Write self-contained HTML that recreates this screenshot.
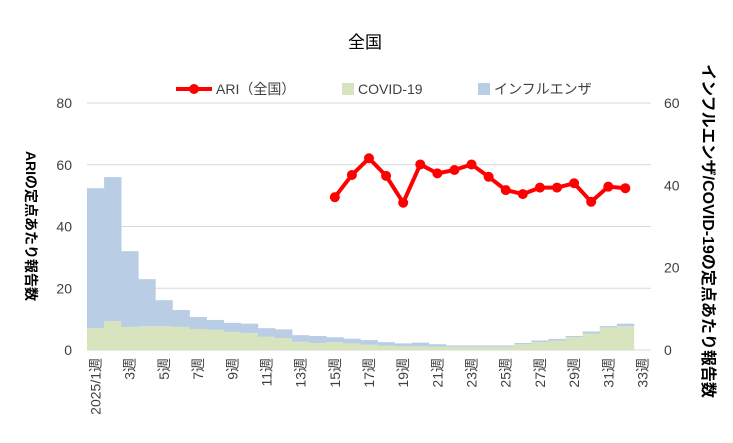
<!DOCTYPE html>
<html><head><meta charset="utf-8"><style>
body{margin:0;background:#fff;}
svg text{font-family:"Liberation Sans","Noto Sans CJK JP",sans-serif;fill:#404040;}
</style></head><body>
<svg width="733" height="438" viewBox="0 0 733 438" xmlns="http://www.w3.org/2000/svg">
<text x="365" y="48" text-anchor="middle" font-size="17" style="fill:#000">全国</text>
<g id="grid"></g>
<g id="bars"></g>
<g id="line"></g>
<g id="axes"></g>
<g>
  <g>
    <line x1="176" y1="89" x2="212" y2="89" stroke="#ff0000" stroke-width="4"/>
    <circle cx="194" cy="89" r="5" fill="#ff0000"/>
    <text x="216" y="94" font-size="14">ARI（全国）</text>
  </g>
  <g>
    <rect x="342" y="83" width="12" height="12" fill="#d7e4bd"/>
    <text x="358" y="94" font-size="14">COVID-19</text>
  </g>
  <g>
    <rect x="478" y="83" width="12" height="12" fill="#b9cde5"/>
    <text x="494" y="94" font-size="14">インフルエンザ</text>
  </g>
</g>
<text transform="translate(26,226) rotate(90)" text-anchor="middle" font-size="14" font-weight="bold" style="fill:#000">ARIの定点あたり報告数</text>
<text transform="translate(703,231) rotate(90)" text-anchor="middle" font-size="16" font-weight="bold" style="fill:#000">インフルエンザ/COVID-19の定点あたり報告数</text>
</svg>
<script>
const weeks = ["2025/1週","2週","3週","4週","5週","6週","7週","8週","9週","10週","11週","12週","13週","14週","15週","16週","17週","18週","19週","20週","21週","22週","23週","24週","25週","26週","27週","28週","29週","30週","31週","32週","33週"];
const covid = [5.3,7.0,5.6,5.8,5.8,5.6,5.1,4.9,4.4,4.1,3.2,2.9,2.0,1.7,1.9,1.6,1.3,1.05,0.9,0.9,0.8,0.8,0.8,0.8,0.8,1.4,1.9,2.3,3.1,4.0,5.5,5.8,null];
const influenza = [34.0,35.0,18.4,11.4,6.3,4.1,2.9,2.4,2.2,2.3,2.1,2.1,1.6,1.7,1.2,1.15,1.1,0.85,0.7,0.9,0.6,0.3,0.3,0.3,0.3,0.3,0.4,0.4,0.3,0.5,0.3,0.6,null];
const ari = [null,null,null,null,null,null,null,null,null,null,null,null,null,null,49.5,56.7,62.1,56.4,47.7,60.1,57.2,58.3,60.1,56.1,51.8,50.5,52.6,52.6,54.0,48.0,52.9,52.4,null];
const leftTicks = [0,20,40,60,80];
const rightTicks = [0,20,40,60];

const NS="http://www.w3.org/2000/svg";
const X0=87,X1=651,Y0=350,Y1=103;
const bw=(X1-X0)/weeks.length;
const xL=i=>X0+i*bw, xC=i=>X0+(i+0.5)*bw;
const yLeft=v=>Y0-(v/80)*(Y0-Y1);
const yRight=v=>Y0-(v/60)*(Y0-Y1);
function mk(t,a,p){const e=document.createElementNS(NS,t);for(const k in a)e.setAttribute(k,a[k]);p.appendChild(e);return e;}
const grid=document.getElementById('grid'),bars=document.getElementById('bars'),line=document.getElementById('line'),axes=document.getElementById('axes');
leftTicks.forEach(v=>{
  const g=mk('line',{x1:X0,x2:X1,y1:yLeft(v),y2:yLeft(v),stroke:'#d9d9d9','stroke-width':1},grid);
  
  
  const t=mk('text',{x:72,y:yLeft(v)+5,'text-anchor':'end','font-size':14},axes);
  t.textContent=v;
  
  
});
rightTicks.forEach(v=>{
  const t=mk('text',{x:664,y:yRight(v)+5,'text-anchor':'start','font-size':14},axes);
  t.textContent=v;
  
  
});
weeks.forEach((w,i)=>{
  if(covid[i]!=null){
    const c=mk('rect',{x:xL(i),width:bw+0.3,y:yRight(covid[i]),height:Y0-yRight(covid[i]),fill:'#d7e4bd'},bars);
    
    
    const top=covid[i]+influenza[i];
    const f=mk('rect',{x:xL(i),width:bw+0.3,y:yRight(top),height:yRight(covid[i])-yRight(top),fill:'#b9cde5'},bars);
    
    
  }
  if(i%2===0){
    const t=mk('text',{transform:`translate(${xC(i)+5},358) rotate(-90)`,'text-anchor':'end','font-size':14},axes);
    t.textContent=w;
    
    
  }
});
let pts=[];
ari.forEach((v,i)=>{if(v!=null)pts.push([xC(i),yLeft(v)]);});
const pl=mk('polyline',{points:pts.map(p=>p.join(',')).join(' '),fill:'none',stroke:'#ff0000','stroke-width':4,'stroke-linejoin':'round'},line);


pts.forEach(p=>{
  const c=mk('circle',{cx:p[0],cy:p[1],r:5,fill:'#ff0000'},line);
  
  
});
</script>
</body></html>
